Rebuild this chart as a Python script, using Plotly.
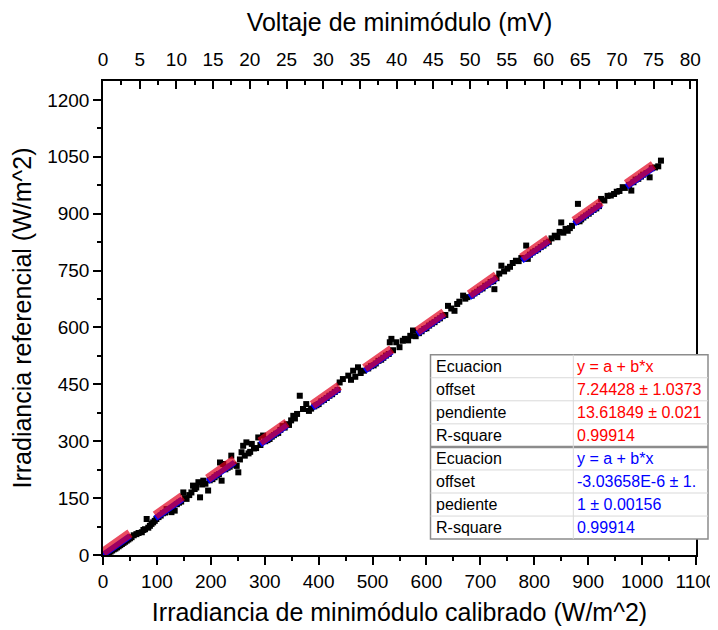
import plotly.graph_objects as go

# ---------------- data ----------------
irr_cal = [2, 5, 8, 11, 14, 17, 20, 23, 26, 29, 32, 35, 38, 41, 44, 47, 50,
           53, 57, 62, 66, 72, 75, 78, 81, 84, 87, 90, 93, 96, 99,
           103, 107, 111, 115, 118, 122, 127, 130, 133, 137, 141, 145, 149, 152, 155,
           160, 164, 167, 170, 173, 177, 180, 184, 186, 190, 195, 198,
           203, 207, 211, 215, 217, 220, 223, 227, 231, 235, 238, 242, 248, 251,
           254, 257, 260, 263, 266, 270, 273, 276, 280, 284, 288, 292, 297,
           301, 305, 309, 313, 317, 321, 325, 329, 333, 337, 341, 345, 349, 353, 356,
           360, 365, 371, 377, 382, 386,
           392, 396, 400, 405, 410, 415, 420, 425, 430, 435, 439, 445,
           455, 460, 464, 468, 473, 478, 484,
           492, 497, 502, 506, 511, 516, 520, 525, 530, 532, 535, 538,
           544, 550, 556, 560, 566, 570, 575, 580,
           586, 591, 596, 600, 605, 610, 615, 620, 625, 630, 635, 640, 646, 652,
           657, 661, 668, 672, 676,
           684, 689, 694, 699, 704, 709, 714, 719, 724, 726, 730, 735, 739, 744,
           750, 755, 760, 766, 771, 776,
           782, 785, 788, 792, 797, 802, 807, 812, 817, 822, 827,
           832, 838, 843, 847, 850, 854, 858, 862, 866, 870,
           878, 881, 884, 887, 891, 896, 901, 905, 910, 915, 920, 924,
           930, 936, 942, 948, 953, 958, 964, 968,
           976, 980, 984, 988, 993, 998, 1002, 1008, 1014, 1018, 1024, 1030, 1035]
irr_ref = [0, 2, 4, 7, 9, 12, 15, 17, 20, 23, 26, 29, 32, 35, 38, 41, 44,
           47, 52, 55, 58, 60, 66, 68, 95, 72, 77, 82, 86, 90, 95,
           100, 104, 110, 112, 121, 118, 113, 125, 117, 134, 138, 141, 165, 150, 148,
           158, 165, 183, 174, 178, 192, 152, 186, 196, 188, 170, 197,
           200, 205, 210, 213, 244, 196, 240, 226, 230, 233, 262, 238, 235, 218,
           252, 271, 288, 262, 297, 268, 272, 293, 281, 282, 310, 290, 315,
           300, 303, 306, 312, 316, 320, 322, 330, 340, 336, 345, 343, 355, 367, 360,
           372, 420, 385, 398, 380, 386,
           392, 395, 398, 405, 409, 414, 420, 424, 430, 435, 455, 464,
           473, 462, 486, 470, 495, 480, 486,
           492, 498, 500, 505, 512, 515, 520, 526, 530, 561, 570, 540,
           561, 548, 565, 570, 566, 578, 592, 577,
           585, 590, 596, 598, 605, 610, 614, 620, 624, 630, 633, 657, 650, 644,
           662, 668, 684, 676, 680,
           684, 690, 694, 700, 703, 710, 713, 720, 722, 701, 730, 742, 763, 748,
           755, 760, 770, 776, 775, 783,
           782, 816, 781, 792, 798, 802, 806, 812, 816, 822, 826,
           835, 842, 838, 852, 877, 850, 860, 855, 862, 868,
           878, 926, 880, 885, 890, 895, 900, 905, 910, 914, 920, 939,
           935, 947, 948, 952, 958, 960, 970, 968,
           976, 961, 983, 990, 992, 998, 1003, 1007, 996, 1020, 1022, 1025, 1040]

# fit parameters (from the table in the picture)
red_offset = 7.24428
red_slope = 13.61849
blue_offset = -3.03658e-6
blue_slope = 1.0

table_labels_red = ["Ecuacion", "offset", "pendiente", "R-square"]
table_values_red = ["y = a + b*x", "7.24428 ± 1.0373", "13.61849 ± 0.021", "0.99914"]
table_labels_blue = ["Ecuacion", "offset", "pediente", "R-square"]
table_values_blue = ["y = a + b*x", "-3.03658E-6 ± 1.", "1 ± 0.00156", "0.99914"]

x_range = [0, 1100]
y_range = [0, 1250]

# ---------------- fit lines ----------------
x_max = max(irr_cal)
blue_x = [0, x_max]
blue_y = [blue_offset + blue_slope * v for v in blue_x]
volt_x = [0, x_max / red_slope]
red_y = [red_offset + red_slope * v for v in volt_x]

FONT = "Liberation Sans, Arial, sans-serif"

fig = go.Figure()
fig.add_trace(go.Scatter(x=irr_cal, y=irr_ref, mode="markers",
                         marker=dict(symbol="square", size=6, color="black", line=dict(width=0)),
                         xaxis="x", yaxis="y", hoverinfo="skip"))
fig.add_trace(go.Scatter(x=blue_x, y=blue_y, mode="lines",
                         line=dict(color="rgb(0,0,255)", width=6, dash="33px,31px"),
                         xaxis="x", yaxis="y", hoverinfo="skip"))
fig.add_trace(go.Scatter(x=volt_x, y=red_y, mode="lines",
                         line=dict(color="rgba(225,0,30,0.7)", width=9, dash="33px,31px"),
                         xaxis="x2", yaxis="y", hoverinfo="skip"))

# the page body has an 8px margin: the figure is drawn 8px right and down
OFF = 8
W, H = 718, 630
L, R, T, B = 103 - OFF, 30, 81 - OFF, 83
pw, ph = W - L - R, H - T - B


def px(xs):
    # screen x (pixels) -> paper coordinate
    return (xs - OFF - L) / pw


def py(ys):
    # screen y (pixels) -> paper coordinate
    return (H - B - (ys - OFF)) / ph


axis_common = dict(showgrid=False, zeroline=False, showline=True, linecolor="black",
                   linewidth=1.5, tickcolor="black", tickwidth=1.5, automargin=False,
                   tickfont=dict(size=19, family=FONT, color="black"))

fig.update_layout(
    width=W, height=H,
    margin=dict(l=L, r=R, t=T, b=B),
    paper_bgcolor="white", plot_bgcolor="white",
    showlegend=False,
    font=dict(family=FONT, size=19, color="black"),
    xaxis=dict(range=x_range, tick0=0, dtick=100, ticks="outside", ticklen=8,
               minor=dict(ticks="outside", ticklen=4, tickwidth=1.5, tickcolor="black", dtick=50, tick0=0),
               title=dict(text="Irradiancia de minimódulo calibrado (W/m^2)",
                          font=dict(size=25, family=FONT), standoff=13),
               **axis_common),
    xaxis2=dict(range=[0, x_range[1] / red_slope], overlaying="x", side="top", anchor="y",
                tick0=0, dtick=5, ticks="inside", ticklen=8, ticklabelstandoff=6,
                minor=dict(ticks="inside", ticklen=4, tickwidth=1.5, tickcolor="black", dtick=2.5, tick0=0),
                title=dict(text="Voltaje de minimódulo (mV)", font=dict(size=25, family=FONT), standoff=12),
                **axis_common),
    yaxis=dict(range=y_range, tick0=0, dtick=150, ticks="outside", ticklen=8, mirror=True,
               minor=dict(ticks="outside", ticklen=4, tickwidth=1.5, tickcolor="black", dtick=75, tick0=0),
               title=dict(text="Irradiancia referencial (W/m^2)", font=dict(size=25, family=FONT), standoff=10),
               **axis_common),
)

# ---------------- fit table ----------------
tx0, tx1, tcol = 430.5, 708, 573.3
ty0, row_h = 354.7, 23.05
n_rows = 8
shapes = []
shapes.append(dict(type="rect", xref="paper", yref="paper", x0=px(tx0), x1=px(tx1),
                   y0=py(ty0 + n_rows * row_h), y1=py(ty0),
                   fillcolor="white", line=dict(color="#8c8c8c", width=1.5), layer="above"))
for i in range(1, n_rows):
    yy = py(ty0 + i * row_h)
    if i == 4:
        ln = dict(color="#8c8c8c", width=2.5)
    else:
        ln = dict(color="#d9d9d9", width=1)
    shapes.append(dict(type="line", xref="paper", yref="paper", x0=px(tx0), x1=px(tx1),
                       y0=yy, y1=yy, line=ln, layer="above"))
shapes.append(dict(type="line", xref="paper", yref="paper", x0=px(tcol), x1=px(tcol),
                   y0=py(ty0 + n_rows * row_h), y1=py(ty0), line=dict(color="#d9d9d9", width=1),
                   layer="above"))
fig.update_layout(shapes=shapes)

labels = table_labels_red + table_labels_blue
values = table_values_red + table_values_blue
colors = ["#ff0000"] * 4 + ["#0000ff"] * 4
annotations = []
for i in range(n_rows):
    yc = py(ty0 + (i + 0.5) * row_h)
    annotations.append(dict(x=px(tx0 + 3), y=yc, xref="paper", yref="paper", text=labels[i],
                            showarrow=False, xanchor="left", yanchor="middle",
                            font=dict(size=16, family=FONT, color="black")))
    annotations.append(dict(x=px(tcol + 2), y=yc, xref="paper", yref="paper", text=values[i],
                            showarrow=False, xanchor="left", yanchor="middle",
                            font=dict(size=16, family=FONT, color=colors[i])))
fig.update_layout(annotations=annotations)

fig.write_html("out.html")
